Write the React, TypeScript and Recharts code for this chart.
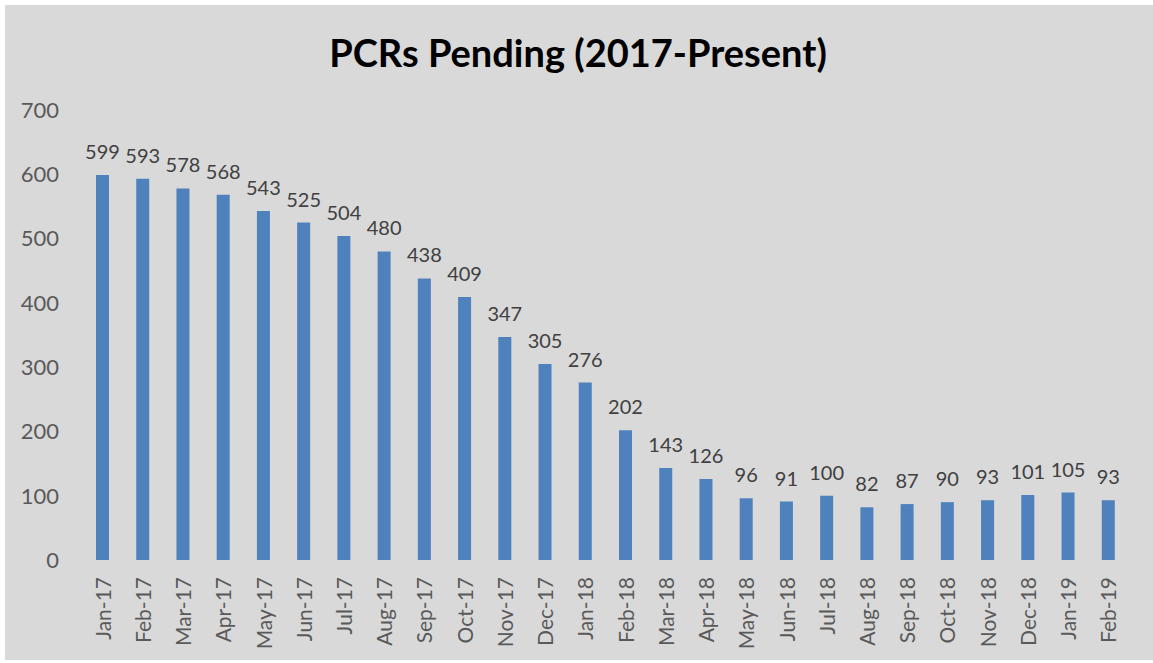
import React from "react";
import { BarChart, Bar, XAxis, YAxis, LabelList } from "recharts";

const categories = [
  "Jan-17", "Feb-17", "Mar-17", "Apr-17", "May-17", "Jun-17", "Jul-17", "Aug-17",
  "Sep-17", "Oct-17", "Nov-17", "Dec-17", "Jan-18", "Feb-18", "Mar-18", "Apr-18",
  "May-18", "Jun-18", "Jul-18", "Aug-18", "Sep-18", "Oct-18", "Nov-18", "Dec-18",
  "Jan-19", "Feb-19",
];
const pending = [
  599, 593, 578, 568, 543, 525, 504, 480, 438, 409, 347, 305, 276, 202, 143, 126,
  96, 91, 100, 82, 87, 90, 93, 101, 105, 93,
];
const yTicks = [0, 100, 200, 300, 400, 500, 600, 700];

const data = categories.map((c, i) => ({ month: c, value: pending[i] }));

const FONT = "Lato, 'Open Sans', sans-serif";

const XTick = (props: any) => {
  const { x, y, payload } = props;
  return (
    <text
      transform={`translate(${x},${y + 15}) rotate(-90)`}
      textAnchor="end"
      dominantBaseline="central"
      fill="#595959"
      fontSize={21}
      fontFamily={FONT}
    >
      {payload.value}
    </text>
  );
};

export default function App() {
  return (
    <div style={{ position: "absolute", left: 0, top: 0, width: 1153, height: 663, background: "#ffffff" }}>
      <div style={{ position: "absolute", left: 5, top: 5, width: 1148, height: 655, background: "#d9d9d9" }} />
      <svg style={{ position: "absolute", left: 0, top: 0 }} width={1153} height={100}>
        <text x={578} y={67} textAnchor="middle" fontFamily={FONT} fontWeight={700} fontSize={38} fill="#000000">
          PCRs Pending (2017-Present)
        </text>
      </svg>
      <div style={{ position: "absolute", left: 0, top: 0 }}>
        <BarChart
          width={1153}
          height={663}
          data={data}
          margin={{ top: 110, right: 25, bottom: 0, left: 0 }}
          barSize={13}
        >
          <XAxis
            dataKey="month"
            height={103}
            axisLine={false}
            tickLine={false}
            tickSize={0}
            interval={0}
            tick={<XTick />}
          />
          <YAxis
            width={82}
            domain={[0, 700]}
            ticks={yTicks}
            axisLine={false}
            tickLine={false}
            tickSize={0}
            tickMargin={23}
            tick={{ fill: "#595959", fontSize: 22, fontFamily: FONT }}
          />
          <Bar dataKey="value" fill="#4f81bd" isAnimationActive={false}>
            <LabelList
              dataKey="value"
              position="top"
              offset={16}
              fill="#404040"
              fontSize={20}
              fontFamily={FONT}
            />
          </Bar>
        </BarChart>
      </div>
    </div>
  );
}
